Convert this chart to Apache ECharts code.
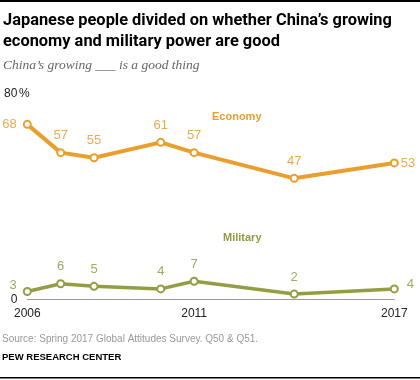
<!DOCTYPE html>
<html><head><meta charset="utf-8">
<script src="https://cdn.jsdelivr.net/npm/echarts@6/dist/echarts.min.js"></script>
<style>html,body{margin:0;padding:0;background:#fff}#c{width:420px;height:380px}</style>
</head><body><div id="c"></div>
<script>
const years = [2006, 2007, 2008, 2010, 2011, 2014, 2017];
const economy = [68, 57, 55, 61, 57, 47, 53];
const military = [3, 6, 5, 4, 7, 2, 4];
const xTickLabels = [2006, 2011, 2017];
const yTickLabels = [0, 80];

const ORANGE = '#EA9E2E', ORANGE_L = '#EDAA4F';
const OLIVE = '#939D44', OLIVE_L = '#A3AA62';

const chart = echarts.init(document.getElementById('c'));
function pts(vals) { return years.map((y, i) => [y, vals[i]]); }
function lbl(color) {
  return {
    show: true, color: color, fontSize: 13, fontFamily: 'Arial, Liberation Sans',
    position: 'top', distance: 6,
    formatter: p => String(p.value[1])
  };
}
const ecoData = pts(economy).map((d, i) => {
  const o = { value: d };
  if (i === 0) o.label = { position: 'left', distance: 6 };
  if (i === years.length - 1) o.label = { position: 'right', distance: 2 };
  return o;
});
const milData = pts(military).map((d, i) => {
  const o = { value: d };
  if (i === 0) o.label = { position: 'left', distance: 6, offset: [0, -6] };
  if (i === years.length - 1) o.label = { position: 'right', distance: 8, offset: [0, -4] };
  return o;
});

chart.setOption({
  animation: false,
  grid: { left: 27.3, right: 25.7, top: 93.5, bottom: 80.8, containLabel: false },
  xAxis: {
    type: 'value', min: 2006, max: 2017, interval: 1,
    axisLine: { show: true, lineStyle: { color: '#999', width: 1 } },
    axisTick: { show: false }, splitLine: { show: false },
    axisLabel: {
      color: '#222', fontSize: 12, fontFamily: 'Arial, Liberation Sans', margin: 8,
      formatter: v => xTickLabels.includes(v) ? String(v) : '',
      showMinLabel: true, showMaxLabel: true
    }
  },
  yAxis: {
    type: 'value', min: 0, max: 80, interval: 80,
    axisLine: { show: false }, axisTick: { show: false }, splitLine: { show: false },
    axisLabel: {
      color: '#222', fontSize: 12, fontFamily: 'Arial, Liberation Sans', margin: 10,
      formatter: v => yTickLabels.includes(v) ? String(v) : ''
    }
  },
  series: [
    {
      type: 'line', data: ecoData, symbol: 'emptyCircle', symbolSize: 7,
      lineStyle: { color: ORANGE, width: 4 },
      itemStyle: { color: ORANGE, borderColor: ORANGE, borderWidth: 2 },
      label: lbl(ORANGE_L), z: 3
    },
    {
      type: 'line', data: milData, symbol: 'emptyCircle', symbolSize: 7,
      lineStyle: { color: OLIVE, width: 3.5 },
      itemStyle: { color: OLIVE, borderColor: OLIVE, borderWidth: 2 },
      label: lbl(OLIVE_L), z: 3
    }
  ],
  graphic: [
    { type: 'rect', shape: { x: 0, y: 0, width: 420, height: 2 }, style: { fill: '#000' } },
    { type: 'text', left: 3, top: 11, style: { text: 'Japanese people divided on whether China\u2019s growing\neconomy and military power are good', font: 'bold 16.4px Roboto, Liberation Sans', fill: '#000', lineHeight: 20.5 } },
    { type: 'text', left: 3, top: 58, style: { text: 'China\u2019s growing ___ is a good thing', font: 'italic 13.5px Liberation Serif, DejaVu Serif', fill: '#666' } },
    { type: 'text', left: 19, top: 88, style: { text: '%', font: '12px Arial, Liberation Sans', fill: '#222' } },
    { type: 'text', left: 212, top: 111, style: { text: 'Economy', font: 'bold 11px Arial, Liberation Sans', fill: ORANGE } },
    { type: 'text', left: 223, top: 232, style: { text: 'Military', font: 'bold 11px Arial, Liberation Sans', fill: OLIVE } },
    { type: 'text', left: 2, top: 334, style: { text: 'Source: Spring 2017 Global Attitudes Survey. Q50 & Q51.', font: '10px Arial, Liberation Sans', fill: '#999' } },
    { type: 'text', left: 2, top: 352, style: { text: 'PEW RESEARCH CENTER', font: 'bold 9.5px Arial, Liberation Sans', fill: '#000' } },
    { type: 'rect', shape: { x: 0, y: 377, width: 420, height: 1.5 }, style: { fill: '#000' } }
  ]
});
</script></body></html>
